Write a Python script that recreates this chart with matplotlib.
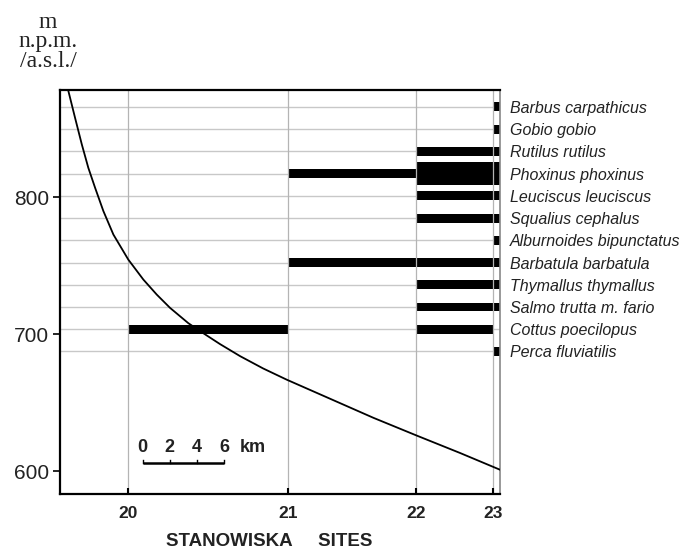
import matplotlib
matplotlib.use("Agg")
from matplotlib import pyplot as plt

# sites along the stream (km from site 20)
sites = [20, 21, 22, 23]
site_km = [0.0, 11.8, 21.3, 26.95]
stream_end_km = 27.45

# longitudinal profile of the stream
profile_km = [-4.45, -4.38, -3.89, -3.39, -2.91, -2.41, -1.80, -1.06, 0.04, 1.15,
              2.14, 3.12, 4.47, 5.57, 6.81, 8.29, 9.99, 11.73, 14.69, 18.13, 21.33,
              24.52, 27.48]
profile_elev = [881.0, 877.8, 858.3, 838.8, 821.7, 807.1, 790.1, 772.9, 754.6, 740.0,
                729.0, 719.3, 708.1, 700.8, 692.8, 684.0, 675.0, 666.8, 653.9, 638.9,
                625.9, 613.2, 600.9]

# species, top to bottom
species = ["Barbus carpathicus", "Gobio gobio", "Rutilus rutilus", "Phoxinus phoxinus",
           "Leuciscus leuciscus", "Squalius cephalus", "Alburnoides bipunctatus",
           "Barbatula barbatula", "Thymallus thymallus", "Salmo trutta m. fario",
           "Cottus poecilopus", "Perca fluviatilis"]

# presence in each stretch: 0 absent, 1 present, 2 abundant
seg_20_21 = [0, 0, 0, 0, 0, 0, 0, 0, 0, 0, 1, 0]
seg_21_22 = [0, 0, 0, 1, 0, 0, 0, 1, 0, 0, 0, 0]
seg_22_23 = [0, 0, 1, 2, 1, 1, 0, 1, 1, 1, 1, 0]
seg_23_end = [1, 1, 1, 2, 1, 1, 1, 1, 1, 1, 0, 1]

scale_ticks = [0, 2, 4, 6]
scale_origin_km = 1.1
scale_elev = 606

sans = "Liberation Sans"
ink = "#222222"

fig = plt.figure(figsize=(6.85, 5.52), dpi=100)
ax = fig.add_axes([60/685, 1 - 494/552, 440/685, 404/552])
ax2 = ax.twinx()
ax.set_zorder(2)
ax2.set_zorder(1)
ax.patch.set_visible(False)

ax.set_xlim(-5.0, 27.47)
ax.set_ylim(583.2, 878.6)
n = len(species)
ax2.set_ylim(-6.41, 11.76)

# species rows
rows = [n - 1 - i for i in range(n)]
for r in rows:
    ax2.axhline(r, color="#c8c8c8", lw=1.0, zorder=0)

bounds = site_km + [stream_end_km]
segs = [seg_20_21, seg_21_22, seg_22_23, seg_23_end]
thick = {1: 0.40, 2: 1.0}
for k, seg in enumerate(segs):
    for r, v in zip(rows, seg):
        if v:
            ax2.barh(r, bounds[k + 1] - bounds[k], left=bounds[k], height=thick[v],
                     color="black", zorder=2)

ax2.set_yticks(rows)
ax2.set_yticklabels(species, fontstyle="italic", fontsize=11.5, family=sans, color=ink)
ax2.tick_params(axis="y", length=0, pad=7)
for s in ax2.spines.values():
    s.set_visible(False)

# site lines
for x in site_km:
    ax.axvline(x, color="#b4b4b4", lw=0.9, zorder=0)

ax.plot(profile_km, profile_elev, color="black", lw=1.3, zorder=3)

# scale bar
sx = [scale_origin_km + t for t in scale_ticks]
ax.plot([sx[0], sx[-1]], [scale_elev, scale_elev], color="black", lw=1.8, solid_capstyle="butt")
for x, t in zip(sx, scale_ticks):
    ax.plot([x, x], [scale_elev, scale_elev + 2.2], color="black", lw=1.0)
    ax.text(x, scale_elev + 5, str(t), ha="center", va="bottom", fontsize=13,
            fontweight="bold", family=sans, color=ink)
ax.text(sx[-1] + 1.15, scale_elev + 5, "km", ha="left", va="bottom", fontsize=13,
        fontweight="bold", family=sans, color=ink)

ax.set_xticks(site_km)
ax.set_xticklabels([str(s) for s in sites], fontsize=12.5, fontweight="bold", family=sans,
                   color=ink)
ax.tick_params(axis="x", direction="in", length=4, width=1.5, pad=9)
ax.set_yticks([600, 700, 800])
ax.set_yticklabels(["600", "700", "800"], fontsize=15, family=sans, color=ink)
ax.tick_params(axis="y", direction="out", length=5, width=1.2, pad=3)

for side in ["left", "bottom", "top"]:
    ax.spines[side].set_linewidth(1.6)
ax.spines["right"].set_color("#888888")
ax.spines["right"].set_linewidth(1.2)

fig.text(48/685, 1 - 42/552, "m\nn.p.m.\n/a.s.l./", ha="center", va="center",
         fontsize=17, family="Liberation Serif", linespacing=0.9, color=ink)
fig.text(269/685, 1 - 542/552, "STANOWISKA     SITES", ha="center", va="center",
         fontsize=13.5, fontweight="bold", family=sans, color=ink)

fig.savefig("out.png", dpi=100)
